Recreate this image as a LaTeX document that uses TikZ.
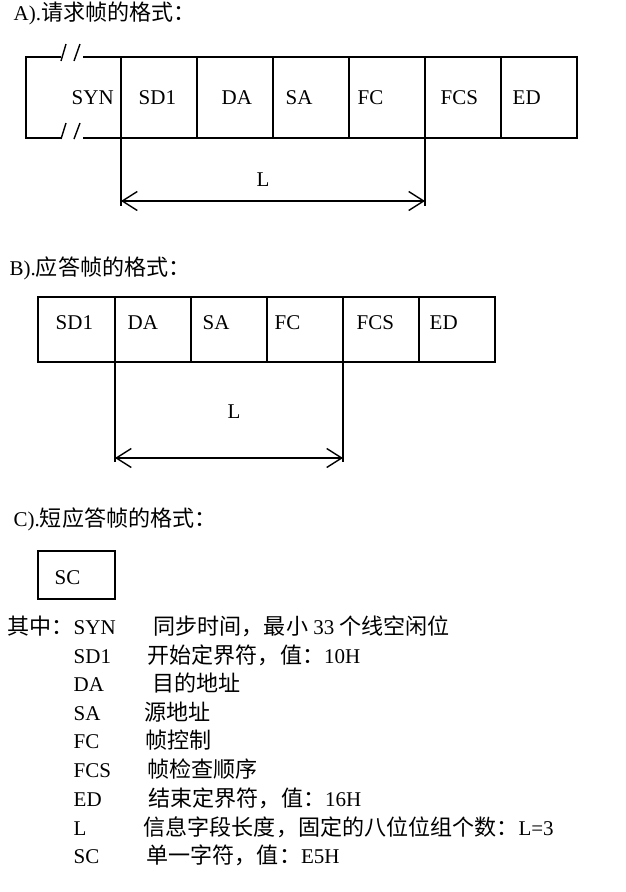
\documentclass[tikz,border=0pt]{standalone}
\usepackage{fontspec}
\setmainfont{Liberation Serif}
\newfontfamily\cjk[Scale=1.05]{Noto Sans CJK SC}
\newcommand{\zh}[1]{{\cjk #1}}
\usetikzlibrary{arrows.meta}

\begin{document}
\begin{tikzpicture}[x=1pt, y=-1pt, line width=1.4pt,
    every node/.style={font=\fontsize{21}{25}\selectfont, inner sep=0pt},
    lbl/.style={anchor=base west},
    dimline/.style={{Straight Barb[length=15pt,width=19pt]}-{Straight Barb[length=15pt,width=19pt]}}]

    \useasboundingbox (0,0) rectangle (625,892);

    % Titles
    \node[lbl] (titleA) at (13,20) {A).\zh{请求帧的格式：}};
    \node[lbl] (titleB) at (9,275) {B).\zh{应答帧的格式：}};
    \node[lbl] (titleC) at (13,526) {C).\zh{短应答帧的格式：}};

    % Define the points of frame A
    \foreach \i/\x in {1/121,2/197,3/273,4/349,5/425,6/501,7/577} {
        \coordinate (at\i) at (\x,57);
        \coordinate (ab\i) at (\x,138);
    }
    \coordinate (synTL) at (26,57);
    \coordinate (synBL) at (26,138);
    \coordinate (synT1) at (61,57);
    \coordinate (synT2) at (83,57);
    \coordinate (synB1) at (61,138);
    \coordinate (synB2) at (83,138);

    % Draw frame A
    \draw (at1) rectangle (ab7);
    \foreach \i in {2,...,6} \draw (at\i) -- (ab\i);
    \draw (synT1) -- (synTL) -- (synBL) -- (synB1);
    \draw (synT2) -- (at1);
    \draw (synB2) -- (ab1);

    % Draw the breaks of SYN
    \draw (61,61) -- (66,44);
    \draw (74,61) -- (80,44);
    \draw (61,139) -- (66,123);
    \draw (74,139) -- (80,123);

    % Place the labels of frame A
    \node[lbl] (synA) at (71,104) {SYN};
    \node[lbl] (sdA) at (138,104) {SD1};
    \node[lbl] (daA) at (221,104) {DA};
    \node[lbl] (saA) at (285,104) {SA};
    \node[lbl] (fcA) at (357,104) {FC};
    \node[lbl] (fcsA) at (440,104) {FCS};
    \node[lbl] (edA) at (512,104) {ED};

    % Length of frame A
    \coordinate (lA1) at (121,206);
    \coordinate (lA2) at (425,206);
    \coordinate (arA1) at (121,201);
    \coordinate (arA2) at (425,201);
    \draw (ab1) -- (lA1);
    \draw (ab5) -- (lA2);
    \draw[dimline] (arA1) -- (arA2);
    \node[lbl] (lenA) at (256,186) {L};

    % Define the points of frame B
    \foreach \i/\x in {1/38,2/115,3/191,4/267,5/343,6/419,7/495} {
        \coordinate (bt\i) at (\x,297);
        \coordinate (bb\i) at (\x,362);
    }

    % Draw frame B
    \draw (bt1) rectangle (bb7);
    \foreach \i in {2,...,6} \draw (bt\i) -- (bb\i);

    % Place the labels of frame B
    \node[lbl] (sdB) at (55,329) {SD1};
    \node[lbl] (daB) at (127,329) {DA};
    \node[lbl] (saB) at (202,329) {SA};
    \node[lbl] (fcB) at (274,329) {FC};
    \node[lbl] (fcsB) at (356,329) {FCS};
    \node[lbl] (edB) at (429,329) {ED};

    % Length of frame B
    \coordinate (lB1) at (115,462);
    \coordinate (lB2) at (343,462);
    \coordinate (arB1) at (115,458);
    \coordinate (arB2) at (343,458);
    \draw (bb2) -- (lB1);
    \draw (bb5) -- (lB2);
    \draw[dimline] (arB1) -- (arB2);
    \node[lbl] (lenB) at (227,418) {L};

    % Frame C
    \coordinate (ct) at (38,551);
    \coordinate (cb) at (115,599);
    \draw (ct) rectangle (cb);
    \node[lbl] (scC) at (54,584) {SC};

    % Legend
    \node[lbl] (where) at (7,634) {\zh{其中：}};
    \node[lbl] (kSyn) at (73,634) {SYN};
    \node[lbl] (kSd) at (73,663) {SD1};
    \node[lbl] (kDa) at (73,691) {DA};
    \node[lbl] (kSa) at (73,720) {SA};
    \node[lbl] (kFc) at (73,748) {FC};
    \node[lbl] (kFcs) at (73,777) {FCS};
    \node[lbl] (kEd) at (73,806) {ED};
    \node[lbl] (kL) at (73,835) {L};
    \node[lbl] (kSc) at (73,863) {SC};

    \node[lbl] (vSyn) at (153,634) {\zh{同步时间，最小} 33 \zh{个线空闲位}};
    \node[lbl] (vSd) at (147,663) {\zh{开始定界符，值：}10H};
    \node[lbl] (vDa) at (152,691) {\zh{目的地址}};
    \node[lbl] (vSa) at (144,720) {\zh{源地址}};
    \node[lbl] (vFc) at (145,748) {\zh{帧控制}};
    \node[lbl] (vFcs) at (147,777) {\zh{帧检查顺序}};
    \node[lbl] (vEd) at (148,806) {\zh{结束定界符，值：}16H};
    \node[lbl] (vL) at (143,835) {\zh{信息字段长度，固定的八位位组个数：}L=3};
    \node[lbl] (vSc) at (146,863) {\zh{单一字符，值：}E5H};

\end{tikzpicture}
\end{document}
